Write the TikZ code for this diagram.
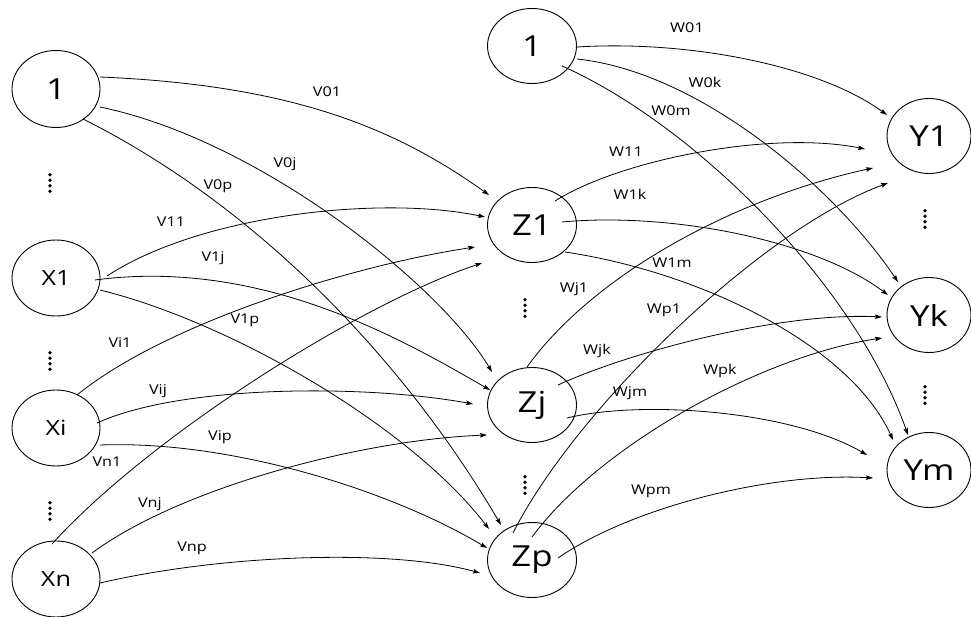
\documentclass[tikz,border=0pt]{standalone}
\usepackage{fontspec}
\setmainfont{Open Sans}[FakeStretch=1.2]
\usetikzlibrary{arrows.meta,calc,shapes.geometric}
\begin{document}
\begin{tikzpicture}[x=1pt,y=-1pt,
  neuron/.style={draw, ellipse, line width=0.9pt, inner sep=0pt,
    minimum width=89pt, minimum height=75pt, font=\fontsize{29}{29}\selectfont},
  inneuron/.style={neuron, minimum width=88pt, minimum height=76pt, font=\fontsize{21}{21}\selectfont},
  outneuron/.style={neuron, minimum width=84pt},
  edge/.style={line width=0.8pt, -{Stealth[length=7pt,width=4.5pt,inset=1.2pt]}},
  wlabel/.style={font=\fontsize{13.5}{13.5}\selectfont, inner sep=0pt}]
\useasboundingbox[fill=white] (0,0) rectangle (971,617);

% nodes
\node[neuron,minimum width=88pt,minimum height=77pt] (L1) at (56,89) {1};
\node[inneuron] (X1) at (56,278) {X1};
\node[inneuron] (Xi) at (56,428) {Xi};
\node[inneuron] (Xn) at (56,579) {Xn};
\node[neuron] (B1) at (532,46) {1};
\node[neuron] (Z1) at (532,225) {Z1};
\node[neuron] (Zj) at (532,405) {Zj};
\node[neuron] (Zp) at (532,560) {Zp};
\node[outneuron] (Y1) at (929,136) {Y1};
\node[outneuron] (Yk) at (929,315) {Yk};
\node[outneuron] (Ym) at (929,470) {Ym};

% vertical dots
\foreach \x/\y in {50/183,50/361,50/511,525/308,525/485,925/219,925/395}
  \foreach \k in {0,...,3}
    \fill (\x,{\y-8.25+5.5*\k}) circle[radius=1.9pt];

% input -> hidden
\draw[edge] ($(L1)+(44,-12)$) .. controls (290,85) and (394,127) .. ($(Z1)+(-43,-30)$);
\draw[edge] ($(L1)+(44,18)$) .. controls (260,140) and (440,285) .. ($(Zj)+(-40,-33)$);
\draw[edge] ($(L1)+(27,30)$) .. controls (253,204) and (401,355) .. ($(Zp)+(-31,-35)$);
\draw[edge] ($(X1)+(51,-2)$) .. controls (200,215) and (380,195) .. ($(Z1)+(-47,-8)$);
\draw[edge] ($(X1)+(39,2)$) .. controls (260,258) and (400,338) .. ($(Zj)+(-42,-15)$);
\draw[edge] ($(X1)+(44,12)$) .. controls (230,322) and (409,425) .. ($(Zp)+(-43,-31)$);
\draw[edge] ($(Xi)+(21,-33)$) .. controls (167,322) and (355,265) .. ($(Z1)+(-57,22)$);
\draw[edge] ($(Xi)+(41,-5)$) .. controls (180,385) and (363,384) .. ($(Zj)+(-59,-1)$);
\draw[edge] ($(Xi)+(44,17)$) .. controls (230,440) and (390,490) .. ($(Zp)+(-45,-12)$);
\draw[edge] ($(Xn)+(-4,-35)$) .. controls (152,434) and (362,303) .. ($(Z1)+(-50,38)$);
\draw[edge] ($(Xn)+(36,-26)$) .. controls (180,488) and (360,440) .. ($(Zj)+(-45,30)$);
\draw[edge] ($(Xn)+(44,4)$) .. controls (220,555) and (390,548) .. ($(Zp)+(-52,13)$);

% hidden -> output
\draw[edge] ($(B1)+(45,1)$) .. controls (690,40) and (820,66) .. ($(Y1)+(-42,-21)$);
\draw[edge] ($(B1)+(45,13)$) .. controls (700,72) and (835,188) .. ($(Yk)+(-31,-33)$);
\draw[edge] ($(B1)+(30,20)$) .. controls (695,125) and (855,285) .. ($(Ym)+(-21,-35)$);
\draw[edge] ($(Z1)+(23,-24)$) .. controls (620,160) and (770,130) .. ($(Y1)+(-64,13)$);
\draw[edge] ($(Z1)+(30,-3)$) .. controls (670,212) and (815,240) .. ($(Yk)+(-41,-20)$);
\draw[edge] ($(Z1)+(33,27)$) .. controls (700,272) and (850,345) .. ($(Ym)+(-36,-30)$);
\draw[edge] ($(Zj)+(-5,-38)$) .. controls (597,270) and (743,196) .. ($(Y1)+(-56,32)$);
\draw[edge] ($(Zj)+(26,-20)$) .. controls (630,352) and (780,312) .. ($(Yk)+(-47,2)$);
\draw[edge] ($(Zj)+(35,13)$) .. controls (640,400) and (790,410) .. ($(Ym)+(-62,-15)$);
\draw[edge] ($(Zp)+(-19,-27)$) .. controls (575,410) and (760,230) .. ($(Y1)+(-41,47)$);
\draw[edge] ($(Zp)+(0,-23)$) .. controls (600,445) and (762,356) .. ($(Yk)+(-47,23)$);
\draw[edge] ($(Zp)+(26,-2)$) .. controls (630,508) and (770,472) .. ($(Ym)+(-56,8)$);

% weight labels
\node[wlabel] (lV01) at (327,92) {V01};
\node[wlabel] (lV0j) at (285,164) {V0j};
\node[wlabel] (lV0p) at (218,186) {V0p};
\node[wlabel] (lV11) at (171,222) {V11};
\node[wlabel] (lV1j) at (213,258) {V1j};
\node[wlabel] (lV1p) at (245,320) {V1p};
\node[wlabel] (lVi1) at (120,343) {Vi1};
\node[wlabel] (lVij) at (158,391) {Vij};
\node[wlabel] (lVip) at (220,437) {Vip};
\node[wlabel] (lVn1) at (107,462) {Vn1};
\node[wlabel] (lVnj) at (150,504) {Vnj};
\node[wlabel] (lVnp) at (192,548) {Vnp};
\node[wlabel] (lW01) at (687,28) {W01};
\node[wlabel] (lW0k) at (705,82) {W0k};
\node[wlabel] (lW0m) at (671,111) {W0m};
\node[wlabel] (lW11) at (626,152) {W11};
\node[wlabel] (lW1k) at (630,194) {W1k};
\node[wlabel] (lW1m) at (672,263) {W1m};
\node[wlabel] (lWj1) at (574,289) {Wj1};
\node[wlabel] (lWp1) at (664,310) {Wp1};
\node[wlabel] (lWjk) at (597,351) {Wjk};
\node[wlabel] (lWpk) at (720,371) {Wpk};
\node[wlabel] (lWjm) at (630,393) {Wjm};
\node[wlabel] (lWpm) at (651,491) {Wpm};
\end{tikzpicture}
\end{document}
